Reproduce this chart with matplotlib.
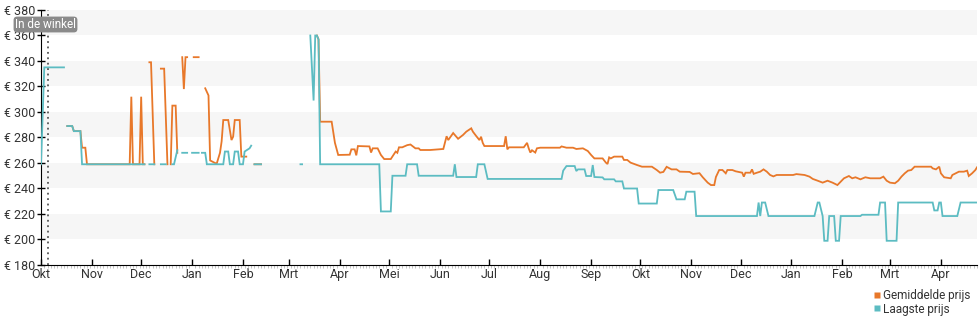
import numpy as np
import matplotlib
matplotlib.use("Agg")
import matplotlib.pyplot as plt
import matplotlib.dates as mdates
from matplotlib.lines import Line2D
from datetime import date, timedelta

plt.rcParams['font.family'] = ['Roboto', 'DejaVu Sans']

start_datum = date(2022, 10, 1)
eind_dag = 570
winkel_dag = 4

maand_labels = ["Okt", "Nov", "Dec", "Jan", "Feb", "Mrt", "Apr", "Mei", "Jun",
                "Jul", "Aug", "Sep", "Okt", "Nov", "Dec", "Jan", "Feb", "Mrt", "Apr"]

y_ticks = [180, 200, 220, 240, 260, 280, 300, 320, 340, 360, 380]

# Laagste prijs (day offset since start, price); None = no data
laagste_dag = [0, 2, 14, 15,
               16, 19, 20, 24, 25, 63, 64,
               66, 69, 70,
               73, 76, 77,
               80, 81, 83, 84,
               86, 89, 90,
               92, 96, 97,
               98, 100, 101, 111, 112, 114, 115, 117, 118, 120, 121, 123, 124, 127, 128, 129,
               130, 134, 135,
               158, 159, 160,
               164, 166, 167, 168, 169, 170, 206, 207, 213, 214, 222, 223, 229, 230, 251, 252,
               253, 265, 266, 270, 272, 317, 318, 320, 325, 326, 327, 331, 332, 335, 336, 337,
               342, 343, 349, 350, 354, 355, 363, 364, 375, 376, 385, 387, 392, 393, 398, 399,
               436, 437, 438, 439, 441, 443, 471, 473, 474, 476, 477, 479, 480, 483, 484, 486,
               487, 499, 500, 510, 511, 514, 515, 521, 522, 543, 544, 546, 547, 548, 549, 558,
               560, 570]
laagste_prijs = [259, 335, 335, None,
                 289, 289, 285, 285, 259, 259, None,
                 259, 259, None,
                 259, 259, None,
                 259, 259, 270, None,
                 268, 268, None,
                 268, 268, None,
                 268, 268, 259, 259, 269, 269, 259, 259, 269, 269, 259, 259, 269, 271.5, 273.6, None,
                 259, 259, None,
                 259, 259, None,
                 360, 309, 360, 360, 357, 259, 259, 222, 222, 250, 250, 259, 259, 250, 250, 259,
                 249, 249, 259, 259, 247.5, 247.5, 254, 257.6, 257.6, 253.7, 255, 255, 249.8, 249.8, 258.4, 249,
                 248.7, 247.2, 247.2, 245.6, 245.6, 240, 240, 228.2, 228.2, 238.8, 238.8, 231.5, 231.5, 237.5, 237.5, 218.4,
                 218.4, 229, 218.4, 229, 229, 218.4, 218.4, 229, 229, 218.4, 199, 199, 218.4, 218.4, 199, 199,
                 218.4, 218.4, 219.4, 219.4, 229, 229, 199, 199, 229, 229, 222.8, 222.8, 229, 229, 218.4, 218.4,
                 229, 229]

# Gemiddelde prijs
gemiddeld_dag = [16, 19, 20, 24, 25, 27, 28, 54, 55, 56, 60, 61, 62, 63, 64,
                 66, 67, 69, 70,
                 73, 75, 77, 78,
                 79, 80, 82, 83, 84,
                 86, 87, 88, 89, 90,
                 93, 96, 97,
                 100, 102, 103, 106, 107, 109, 110, 111, 114, 116, 117, 118, 121, 122, 125, 126,
                 130, 134, 135,
                 168, 169, 170, 177, 179, 181, 188, 189, 191, 192, 193, 200, 201, 202, 205, 207,
                 209, 213, 216, 217, 218, 220, 223, 225, 228, 230, 231, 237, 240, 245, 247, 248,
                 251, 254, 257, 259, 262, 263, 265, 267, 268, 269, 270, 282, 283, 284, 285, 294,
                 296, 297, 298, 299, 301, 302, 304, 316, 317, 320, 324, 326, 330, 333, 335, 337,
                 342, 344, 345, 346, 347, 349, 354, 355, 357, 359, 363, 366, 372, 375, 377, 379,
                 381, 384, 387, 389, 395, 397, 401, 403, 406, 408, 410, 411, 413, 415, 417, 418,
                 421, 423, 427, 428, 429, 432, 433, 434, 436, 438, 440, 442, 444, 446, 448, 458,
                 460, 465, 468, 470, 473, 476, 479, 482, 485, 487, 489, 492, 494, 496, 499, 502,
                 505, 511, 513, 515, 517, 520, 522, 524, 526, 528, 530, 532, 542, 543, 545, 547,
                 548, 550, 554, 555, 559, 562, 564, 565, 567, 569, 570]
gemiddeld_prijs = [289, 289, 285, 285, 272, 272, 259, 259, 312, 259, 259, 312, 259, 259, None,
                   339, 339, 259, None,
                   334, 334, 259, None,
                   259, 305, 305, 268, None,
                   343, 318, 343, 343, None,
                   343, 343, None,
                   318.6, 313, 262, 260, 259.5, 268, 277, 293.7, 293.7, 278, 280.6, 293.7, 293.7, 265, 265, None,
                   259, 259, None,
                   360, 357, 292.4, 292.4, 275.8, 266.3, 266.5, 270.7, 270.7, 266, 273.3, 273, 268.2, 271.5, 271.5, 266.3,
                   263.1, 263.1, 269, 268, 272.3, 272.3, 274, 274.5, 271.5, 271.5, 270.2, 270.2, 270.5, 271, 281, 278,
                   283.5, 279, 282, 284.6, 287.2, 284.6, 281.2, 278, 280.6, 275.8, 273.3, 273.3, 281, 270.7, 272.3, 272.3,
                   275.8, 271.5, 268.2, 270, 268.2, 271.5, 272, 272, 273, 272, 272, 271, 271.5, 269.4, 266.3, 263.6,
                   263.6, 260.3, 259.2, 264.4, 263.6, 265, 265, 262.4, 262.4, 260.3, 258.4, 257.1, 257.1, 254.5, 252.4, 253,
                   257, 255, 255, 253.2, 253, 251.4, 252, 248.8, 244.6, 242.7, 242.7, 249, 254.5, 254.5, 251.9, 254.5,
                   254.5, 253.5, 252.4, 249.3, 252.4, 252.4, 255, 251.5, 252.4, 253.2, 255, 253.2, 250.6, 249.5, 250.6, 250.6,
                   251.3, 250.6, 249.3, 247.5, 246.1, 244.6, 246.1, 244.6, 242.7, 245.3, 248, 249.8, 248, 248.8, 247.2, 248.8,
                   248, 248, 249.3, 246.1, 244.6, 244.1, 246.1, 249.3, 251.9, 254, 254.5, 257.1, 257.1, 255.8, 255, 257.1,
                   251.9, 248.8, 248, 250.6, 253.2, 253.2, 254, 249.8, 251.9, 254.5, 256.6]

kleur_gem = "#e8782a"
kleur_laag = "#5cbcc2"
band_kleur = "#f6f6f6"


def naar_datum(dagen):
    return [start_datum + timedelta(days=int(d)) for d in dagen]


fig = plt.figure(figsize=(9.8, 3.25), dpi=100)
ax = fig.add_axes([41 / 980, 1 - 265 / 325, 936 / 980, 255 / 325])

x0 = start_datum
x1 = start_datum + timedelta(days=eind_dag)
ax.set_xlim(x0, x1)
ax.set_ylim(y_ticks[0], y_ticks[-1])

for lo in y_ticks[1::2]:
    ax.axhspan(lo, lo + 20, color=band_kleur, lw=0, zorder=0)

ax.plot(naar_datum(gemiddeld_dag), np.array(gemiddeld_prijs, dtype=float),
        color=kleur_gem, lw=1.3, zorder=3, solid_joinstyle='miter')
ax.plot(naar_datum(laagste_dag), np.array(laagste_prijs, dtype=float),
        color=kleur_laag, lw=1.3, zorder=4, solid_joinstyle='miter')

ax.axvline(start_datum + timedelta(days=winkel_dag), color="#555555", lw=1.3,
           linestyle=(0, (1, 2)), zorder=5)

for s in ["top", "right"]:
    ax.spines[s].set_visible(False)
ax.spines["left"].set_color("black")
ax.spines["bottom"].set_color("black")

ax.set_yticks(y_ticks)
ax.set_yticklabels([f"€ {v}" for v in y_ticks])
ax.tick_params(axis="y", direction="inout", length=6, width=1, labelsize=9, pad=1,
               colors="black", labelcolor="#333333")

maand_posities = [start_datum.replace(year=start_datum.year + (start_datum.month - 1 + i) // 12,
                                      month=(start_datum.month - 1 + i) % 12 + 1)
                  for i in range(len(maand_labels))]
ax.set_xticks(maand_posities)
ax.set_xticklabels(maand_labels)
ax.xaxis.set_minor_locator(mdates.DayLocator(interval=2))
ax.tick_params(axis="x", which="major", direction="in", length=4, width=1, labelsize=9,
               pad=2, labelcolor="#333333")
ax.tick_params(axis="x", which="minor", direction="out", length=2, width=0.6, colors="#bbbbbb")

fig.text(15 / 980, 1 - 24.5 / 325, "In de winkel", fontsize=8.5, color="white",
         va="center", ha="left",
         bbox=dict(boxstyle="round,pad=0.12,rounding_size=0.3", fc="#8a8a8a", ec="none"))

handles = [Line2D([], [], marker="s", ls="none", markerfacecolor=kleur_gem,
                  markeredgecolor="none", markersize=5, label="Gemiddelde prijs"),
           Line2D([], [], marker="s", ls="none", markerfacecolor=kleur_laag,
                  markeredgecolor="none", markersize=5, label="Laagste prijs")]
fig.legend(handles=handles, loc="lower right", bbox_to_anchor=(1.0, 0.0), frameon=False,
           fontsize=8.5, handlelength=0.6, handletextpad=0.2, labelspacing=0.05,
           borderpad=0.3, labelcolor="#333333")

fig.savefig("out.png", dpi=100)
